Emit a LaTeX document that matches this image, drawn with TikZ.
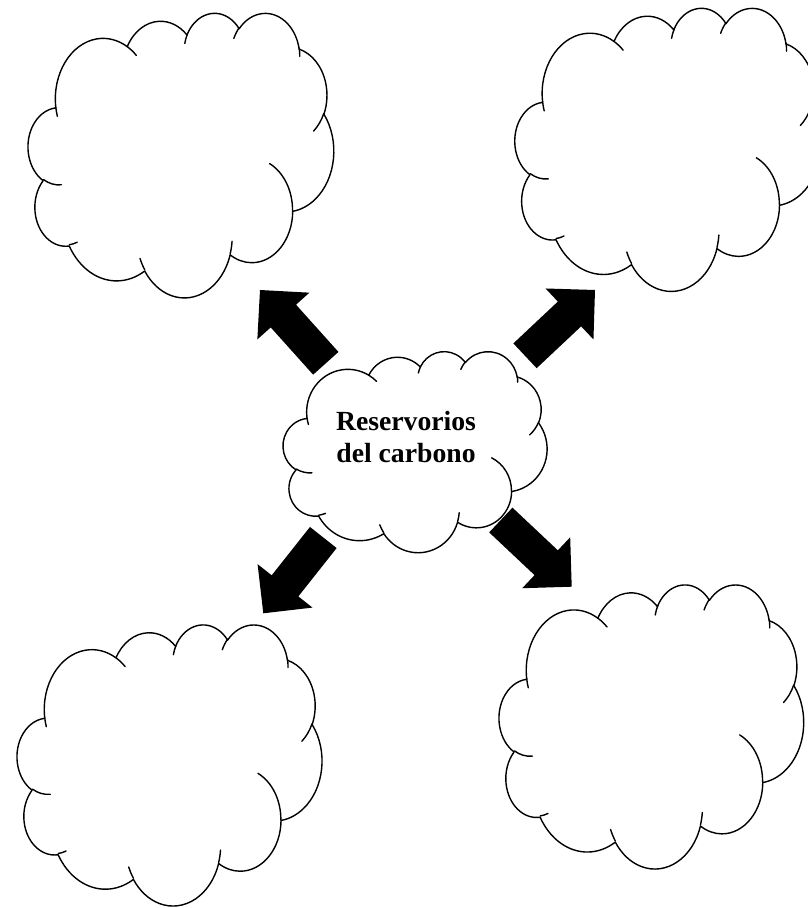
\documentclass[tikz,border=0pt]{standalone}
\usepackage{fontspec}
\setmainfont{Liberation Serif}
\usetikzlibrary{calc}

% One lobe of the cloud outline: radii (wR, hR) and the start / sweep
% angles given as polar angles; they are turned into the parametric
% angles that TikZ's elliptic arc expects.
\tikzset{
  carc/.code n args={4}{%
    \pgfmathsetmacro\cloudts{atan2((#1)*sin(#3),(#2)*cos(#3))}%
    \pgfmathsetmacro\cloudte{atan2((#1)*sin((#3)+(#4)),(#2)*cos((#3)+(#4)))}%
    \pgfmathsetmacro\cloudtd{mod(\cloudte-(\cloudts)+720,360)}%
    \edef\cloudtmp{\noexpand\tikzset{insert path={arc[start angle=\cloudts,delta angle=\cloudtd,x radius=#1,y radius=#2]}}}%
    \cloudtmp},
  cloudline/.style={draw=black, line width=1.4pt, line join=round, line cap=round},
  cloudfill/.style={cloudline, fill=white},
  arrowfill/.style={fill=black},
  labeltext/.style={font=\bfseries\fontsize{27.7}{31.7}\selectfont, align=center, inner sep=0pt},
}

% Cloud outline on a 43.2 x 43.2 frame, y pointing down
\newcommand\cloudpath{(3.9,14.37)
  [carc={6.753}{9.19}{-190.4875}{123.7805}]
  [carc={5.333}{7.267}{-144.1024}{89.9452}]
  [carc={4.365}{5.945}{-145.8079}{99.723}]
  [carc={4.857}{6.595}{-130.9861}{117.2417}]
  [carc={5.333}{7.273}{-78.7089}{109.0269}]
  [carc={6.775}{9.22}{-46.2673}{130.269}]
  [carc={5.785}{7.867}{0.625}{114.0333}]
  [carc={6.752}{9.215}{22.4516}{115.1726}]
  [carc={7.72}{10.543}{66.2426}{75.711}]
  [carc={4.36}{5.918}{-274.9421}{146.7356}]
  [carc={4.345}{5.945}{-246.8285}{152.5189}]
  -- cycle}

% Short inner arcs where the lobes overlap
\newcommand\cloudhooks{
  (4.693,26.177) [carc={4.345}{5.945}{86.742}{26.4295}]
  (6.928,34.899) [carc={4.36}{5.918}{73.6105}{11.4475}]
  (16.478,39.09) [carc={6.752}{9.215}{137.6242}{14.0811}]
  (28.827,34.751) [carc={6.752}{9.215}{6.4533}{15.9984}]
  (34.129,22.954) [carc={5.785}{7.867}{-70.2924}{70.9174}]
  (41.798,15.354) [carc={5.333}{7.273}{30.318}{27.7515}]
  (38.324,5.426) [carc={4.857}{6.595}{-13.7443}{14.8589}]
  (29.078,3.952) [carc={4.857}{6.595}{-149.1815}{18.1954}]
  (22.141,4.72) [carc={4.365}{5.945}{-163.4943}{17.6864}]
  (14,5.192) [carc={6.753}{9.19}{-66.707}{12.3194}]
  (4.127,15.789) [carc={6.753}{9.19}{157.6544}{11.8582}]
}

% \drawcloud{name}{left}{top}{width}{height}
\newcommand\drawcloud[5]{%
  \begin{scope}[shift={(#2,#3)}, xscale=#4/43.2, yscale=#5/43.2]
    \path[cloudfill] \cloudpath;
    \path[cloudline] \cloudhooks;
    \coordinate (#1) at (21.6,21.6);
  \end{scope}}

% \blockarrow{tail}{tip}: thick arrow with a right-angled head
\newcommand\blockarrow[2]{%
  \fill[arrowfill]
    ($(#1)!17pt!90:(#2)$) --
    ($($(#2)!35pt!(#1)$)!17pt!90:(#2)$) --
    ($($(#2)!35pt!(#1)$)!35pt!90:(#2)$) --
    (#2) --
    ($($(#2)!35pt!(#1)$)!35pt!-90:(#2)$) --
    ($($(#2)!35pt!(#1)$)!17pt!-90:(#2)$) --
    ($(#1)!17pt!-90:(#2)$) -- cycle;}

\begin{document}
\begin{tikzpicture}[x=1pt, y=-1pt]
  \useasboundingbox (0,0) rectangle (808,908);
  \clip (0,0) rectangle (808,908);
  \fill[white] (0,0) rectangle (808,908);

  % arrows leaving the central cloud
  \coordinate (ulTail) at (325.8,363.3);
  \coordinate (ulTip)  at (260,290);
  \coordinate (urTail) at (525,355.8);
  \coordinate (urTip)  at (595,290);
  \coordinate (llTail) at (323.3,537.5);
  \coordinate (llTip)  at (263.3,613.3);
  \coordinate (lrTail) at (500.8,520);
  \coordinate (lrTip)  at (571.7,586.7);
  \blockarrow{ulTail}{ulTip}
  \blockarrow{urTail}{urTip}
  \blockarrow{llTail}{llTip}
  \blockarrow{lrTail}{lrTip}

  % clouds
  \drawcloud{cloudTL}{28.2}{12.4}{305.5}{284.5}
  \drawcloud{cloudTR}{515}{7.4}{305.5}{283}
  \drawcloud{cloudBL}{17.2}{624}{304.7}{281}
  \drawcloud{cloudBR}{499.2}{584}{304.4}{284}
  \drawcloud{cloudC}{283.2}{351}{263.8}{201}

  \node[labeltext] (title) at (406,436.7) {Reservorios\\del carbono};
\end{tikzpicture}
\end{document}
